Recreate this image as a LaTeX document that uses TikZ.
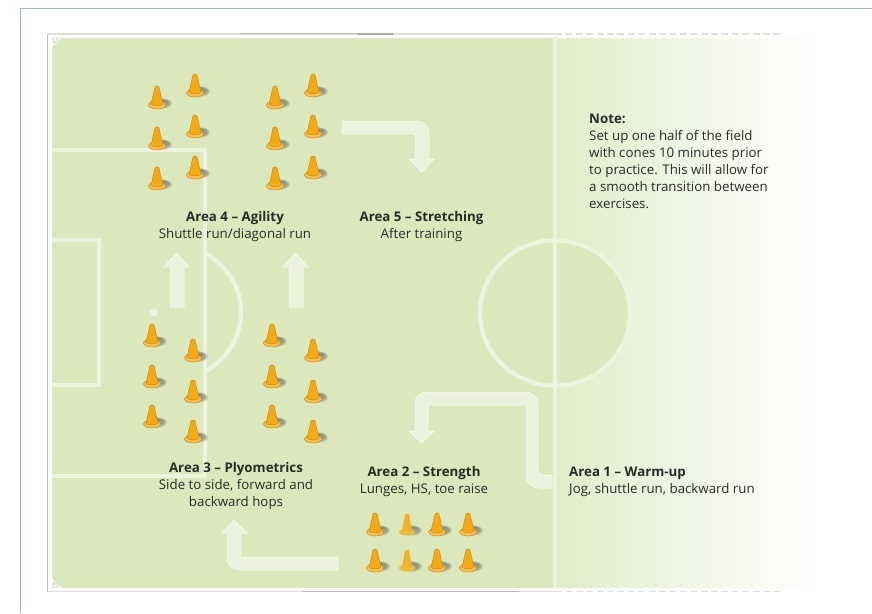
\documentclass[tikz,border=0pt]{standalone}
\usepackage{fontspec}
\setmainfont{Open Sans}
\usetikzlibrary{arrows.meta}
\definecolor{turf}{HTML}{DAE8BC}
\definecolor{chalk}{HTML}{EDF3DF}
\definecolor{rimc}{HTML}{BDBFB3}
\definecolor{riml}{HTML}{DEDFD8}
\definecolor{framec}{HTML}{9DB3D6}
\definecolor{coneo}{HTML}{F6AA12}
\definecolor{conee}{HTML}{C98A2A}
\definecolor{conel}{HTML}{FBC04A}
\definecolor{shade}{HTML}{5E6E50}
\definecolor{inkc}{HTML}{2A2A2A}
\tikzset{
  x=1pt,y=-1pt,
  chalkline/.style={draw=chalk,line width=4.3pt},
  flow/.style={fill=chalk,draw=white,line width=.5pt,opacity=.95},
  lbl/.style={font=\fontsize{13.3}{17}\selectfont,text=inkc,align=center,inner sep=0pt},
  softshadow/.pic={
    \foreach \r in {10.5,9.5,8.5,7.5}
      \fill[shade,opacity=.09] (4.5,-1.5) ellipse (\r*1 and \r*.5);
  },
  cone/.pic={
    \pic {softshadow};
    \filldraw[fill=conel,draw=conee,line width=.5pt] (0,0) ellipse (8.5 and 4);
    \filldraw[fill=coneo,draw=conee,line width=.5pt] (-6,-.5) -- (-2,-18) .. controls (-1,-19.5) and (1,-19.5) .. (2,-18) -- (6,-.5) .. controls (3,1.2) and (-3,1.2) .. (-6,-.5) -- cycle;
  },
  fadedcone/.pic={
    \pic {softshadow};
    \fill[coneo!75!turf] (0,0) ellipse (8 and 3.5);
    \fill[coneo!85!turf] (-5,-.5) -- (-2,-18) -- (2,-18) -- (5,-.5) -- cycle;
  }
}
\begin{document}
\begin{tikzpicture}
\useasboundingbox (0,0) rectangle (872,613);
% outer page rules
\draw[framec,line width=.8pt] (20.5,613) -- (20.5,8.5) -- (872,8.5);
% turf with fade
\fill[turf] (52,38) rectangle (556,587.5);
\foreach \i in {0,...,65} {
  \pgfmathsetmacro{\mixp}{80-80*\i/65}
  \pgfmathsetmacro{\xs}{556+4*\i}
  \fill[turf!\mixp!white] (\xs,38) rectangle (818,587.5);
}
\fill[turf] (555,313) ellipse (75 and 72.6);
% turf corners
\fill[white] (52,38) -- (62,38) .. controls (58,40) and (54,44) .. (52,48) -- cycle;
\fill[white] (52,587.5) -- (62,587.5) .. controls (58,586) and (54,582) .. (52,578) -- cycle;
\draw[rimc,line width=.5pt] (52.5,38.5) -- (58,38.5) -- (54,43) -- cycle;
\draw[rimc,line width=.5pt] (52.5,587) -- (58,587) -- (54,582.5) -- cycle;
% rim
\draw[rimc,line width=1.3pt] (47.5,34) -- (47.5,591.5);
\draw[riml,line width=1.3pt] (47,34) -- (555,34);
\draw[rimc,line width=1pt] (240,33.8) -- (357,33.8);
\draw[rimc!90!black,line width=1.7pt] (357,34) -- (393,34);
\draw[riml,line width=1.5pt] (47,591.5) -- (302,591.5);
\draw[rimc,line width=1.7pt] (302,591.5) -- (519,591.5);
\draw[riml,line width=1.5pt] (519,591.5) -- (555,591.5);
\draw[riml,line width=1.5pt,dash pattern=on 7pt off 3.4pt] (555,34) -- (783,34);
\draw[riml,line width=1.5pt,dash pattern=on 7pt off 3.4pt] (555,591.5) -- (783,591.5);
% pitch markings
\draw[chalkline] (555,36) -- (555,589);
\draw[chalkline] (52,150) -- (205,150) -- (205,476) -- (52,476);
\draw[chalkline] (52,240) -- (99,240) -- (99,385) -- (52,385);
\draw[chalkline] (205,253) .. controls (228,267) and (241,287) .. (241,312) .. controls (241,337) and (228,358) .. (205,372);
\draw[chalkline] (555,313) ellipse (75 and 72.6);
\fill[chalk] (154,312.5) ellipse (4.5 and 3.8);
% arrows
\draw[flow] (552,475) -- (552,488) -- (541,488) .. controls (531,488) and (526,483) .. (526,474) -- (526,405) -- (428,405) -- (428,431) -- (434,431) -- (421.5,443) -- (409,431) -- (415,431) -- (415,404) .. controls (415,396) and (420,392) .. (428,392) -- (525,392) .. controls (533,392) and (538,397) .. (538,405) -- (538,468) .. controls (538,473) and (540,475) .. (545,475) -- cycle;
\draw[flow] (338,557) -- (338,570) -- (241,570) .. controls (232,570) and (227,565) .. (227,556) -- (227,533) -- (222,533) -- (234,520) -- (247,533) -- (241,533) -- (241,557) -- cycle;
\draw[flow] (342,121) -- (415,121) .. controls (424,121) and (429,126) .. (429,135) -- (429,159) -- (434,159) -- (421.5,172) -- (409,159) -- (415,159) -- (415,134) -- (342,134) -- cycle;
\draw[flow] (170.5,307) -- (170.5,267) -- (164,267) -- (176.5,253) -- (189,267) -- (184,267) -- (184,307) -- cycle;
\draw[flow] (289,307) -- (289,267) -- (283,267) -- (295.5,253) -- (308,267) -- (303,267) -- (303,307) -- cycle;
% cones
\foreach \x/\y in {157/105,195/93,157/146,195/134,157/186,195/175,
                   275/105,313/93,275/146,313/134,275/186,313/175,
                   152/343,193/358,152/384,193/399,152/424,193/439,
                   272/343,313/358,272/384,313/399,272/424,313/439,
                   375/532,437/532,468/532,375/568,437/568,468/568}
  \pic at (\x,\y) {cone};
\pic at (407,532) {fadedcone};
\pic at (407,568) {fadedcone};
% labels
\node[lbl] (l4) at (235,226.5) {\textbf{Area 4 – Agility}\\Shuttle run/diagonal run};
\node[lbl] (l5) at (421.5,226.5) {\textbf{Area 5 – Stretching}\\After training};
\node[lbl] (l3) at (236,486) {\textbf{Area 3 – Plyometrics}\\Side to side, forward and\\backward hops};
\node[lbl] (l2) at (424,481.5) {\textbf{Area 2 – Strength}\\Lunges, HS, toe raise};
\node[lbl,align=left,anchor=west] (l1) at (569,481.5) {\textbf{Area 1 – Warm-up}\\Jog, shuttle run, backward run};
\node[lbl,align=left,anchor=west] (note) at (589,161.5) {\textbf{Note:}\\Set up one half of the field\\with cones 10 minutes prior\\to practice. This will allow for\\a smooth transition between\\exercises.};
\end{tikzpicture}
\end{document}
